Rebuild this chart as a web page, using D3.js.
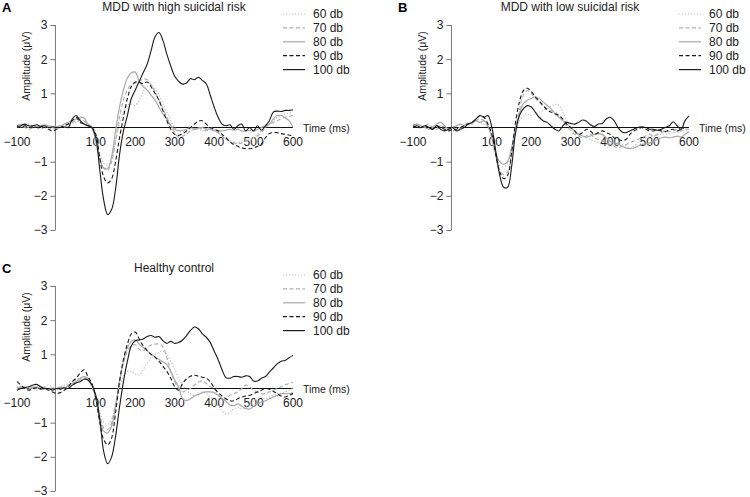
<!DOCTYPE html>
<html>
<head>
<meta charset="utf-8">
<script src="https://cdn.jsdelivr.net/npm/d3@7"></script>
<style>
  body { margin: 0; background: #fff; }
  svg { font-family: "Liberation Sans", Arial, sans-serif; }
</style>
</head>
<body>
<div id="chart"></div>
<script>
// time grid (ms), one sample every 10 ms
const times = d3.range(-100, 601, 10);
const levels = ["60 db", "70 db", "80 db", "90 db", "100 db"];
const xTickValues = [-100, 100, 200, 300, 400, 500, 600];
const xTickLabels = ["\u2212100", "100", "200", "300", "400", "500", "600"];
const yTickValues = [3, 2, 1, -1, -2, -3];
const yTickLabels = ["3", "2", "1", "\u22121", "\u22122", "\u22123"];
const panelTitles = ["MDD with high suicidal risk", "MDD with low suicidal risk", "Healthy control"];
const panelLetters = ["A", "B", "C"];

// panel A: MDD with high suicidal risk
const highRisk60 = [0.05,0.0,0.05,0.1,0.05,0.0,0.05,0.0,0.02,0.05,0.0,0.05,0.0,0.05,0.1,0.15,0.2,0.15,0.1,0.0,
  -0.35,-0.8,-1.05,-1.1,-0.9,-0.4,0.1,0.45,0.65,0.68,0.65,0.8,1.05,1.2,1.25,1.15,0.95,0.7,0.45,0.2,
  0.0,-0.1,-0.12,-0.15,-0.1,-0.05,-0.05,-0.1,-0.05,0.0,-0.05,-0.15,-0.25,-0.35,-0.4,-0.42,-0.45,-0.4,-0.38,-0.35,
  -0.3,-0.2,-0.1,0.0,0.1,0.2,0.3,0.35,0.4,0.42,0.45];
const highRisk70 = [0.0,0.05,0.0,-0.05,0.0,0.05,0.0,0.02,0.0,-0.05,0.0,0.02,0.05,0.1,0.15,0.2,0.25,0.2,0.1,0.0,
  -0.45,-0.95,-1.2,-1.25,-1.0,-0.4,0.3,0.8,1.1,1.25,1.3,1.35,1.42,1.4,1.25,1.05,0.8,0.55,0.3,0.05,
  -0.15,-0.28,-0.25,-0.2,-0.1,-0.05,0.0,-0.05,-0.1,-0.05,-0.1,-0.15,-0.25,-0.35,-0.4,-0.45,-0.48,-0.45,-0.4,-0.35,
  -0.3,-0.25,-0.15,0.0,0.1,0.15,0.2,0.25,0.3,0.32,0.35];
const highRisk80 = [0.05,0.1,0.05,0.0,0.05,0.02,0.05,0.08,0.05,0.0,0.02,0.05,0.1,0.15,0.2,0.25,0.3,0.28,0.1,0.0,
  -0.4,-0.9,-1.18,-1.2,-0.85,-0.1,0.6,1.1,1.45,1.6,1.62,1.35,1.2,1.1,0.95,0.8,0.6,0.4,0.25,0.05,
  -0.05,-0.1,-0.08,-0.05,0.0,-0.05,-0.02,0.0,-0.05,-0.05,-0.1,-0.1,-0.1,-0.08,-0.05,-0.08,-0.05,-0.1,-0.1,-0.08,
  -0.1,-0.05,0.0,0.05,0.1,0.25,0.35,0.35,0.28,0.2,0.0];
const highRisk90 = [0.05,0.0,0.05,0.0,0.02,0.0,-0.02,0.0,-0.05,-0.1,-0.05,0.0,0.05,0.1,0.2,0.3,0.15,0.1,0.05,0.0,
  -0.2,-0.9,-1.45,-1.62,-1.5,-1.0,-0.3,0.3,0.85,1.2,1.33,1.32,1.28,1.33,1.2,1.0,0.8,0.5,0.2,-0.05,
  -0.2,-0.23,-0.18,-0.1,0.0,0.1,0.18,0.2,0.1,0.0,-0.05,-0.1,-0.2,-0.3,-0.42,-0.5,-0.55,-0.6,-0.62,-0.62,
  -0.6,-0.55,-0.48,-0.3,-0.18,-0.15,-0.15,-0.18,-0.2,-0.22,-0.25];
const highRisk100 = [0.0,0.05,0.1,0.05,0.05,0.08,0.03,0.05,0.0,0.02,0.0,0.0,0.02,0.0,0.25,0.35,0.2,0.1,0.05,0.0,
  -0.3,-1.26,-2.13,-2.55,-2.4,-1.8,-0.8,-0.1,0.35,0.85,1.1,1.35,1.6,1.85,2.25,2.65,2.78,2.55,2.15,1.8,
  1.5,1.35,1.27,1.3,1.43,1.4,1.47,1.38,1.28,0.95,0.6,0.3,0.1,0.05,0.08,-0.05,0.05,0.1,-0.1,0.0,
  -0.1,0.05,-0.08,0.05,0.2,0.45,0.48,0.47,0.5,0.5,0.52];

// panel B: MDD with low suicidal risk
const lowRisk60 = [0.05,0.1,0.05,0.0,0.05,-0.05,0.0,0.05,0.0,-0.05,0.0,0.05,0.0,0.05,0.1,0.15,0.2,0.15,0.1,0.0,
  -0.3,-0.8,-1.1,-1.15,-1.05,-0.7,-0.2,0.2,0.35,0.4,0.35,0.4,0.45,0.5,0.55,0.62,0.68,0.65,0.45,0.2,
  0.0,-0.15,-0.2,-0.25,-0.3,-0.35,-0.4,-0.45,-0.5,-0.5,-0.55,-0.5,-0.45,-0.5,-0.55,-0.6,-0.55,-0.45,-0.35,-0.3,
  -0.28,-0.25,-0.22,-0.2,-0.2,-0.18,-0.15,-0.15,-0.12,-0.1,-0.1];
const lowRisk70 = [0.1,0.05,0.0,0.05,0.1,0.0,-0.05,0.0,0.05,-0.05,-0.1,-0.05,0.0,0.05,0.15,0.1,0.2,0.25,0.2,0.05,
  -0.3,-0.85,-1.25,-1.38,-1.3,-0.8,-0.1,0.5,0.95,1.08,1.0,0.85,0.75,0.62,0.55,0.5,0.45,0.35,0.2,0.05,
  -0.1,-0.2,-0.25,-0.3,-0.25,-0.2,-0.3,-0.35,-0.4,-0.45,-0.5,-0.55,-0.6,-0.55,-0.5,-0.45,-0.4,-0.35,-0.3,-0.25,
  -0.2,-0.25,-0.2,-0.15,-0.1,-0.12,-0.1,-0.05,-0.08,-0.05,-0.05];
const lowRisk80 = [0.05,0.1,0.05,0.0,-0.05,0.0,0.1,0.15,0.05,-0.05,0.0,0.05,0.1,0.05,0.1,0.15,0.2,0.15,0.2,0.05,
  -0.3,-0.75,-1.0,-1.08,-1.0,-0.6,0.0,0.4,0.7,0.8,0.85,0.9,0.85,0.75,0.65,0.55,0.4,0.3,0.2,0.1,
  0.0,-0.1,-0.2,-0.25,-0.28,-0.25,-0.2,-0.18,-0.2,-0.3,-0.4,-0.45,-0.48,-0.55,-0.6,-0.62,-0.6,-0.55,-0.5,-0.48,
  -0.45,-0.4,-0.35,-0.3,-0.28,-0.3,-0.28,-0.25,-0.28,-0.2,-0.12];
const lowRisk90 = [0.05,0.0,0.0,0.05,0.0,-0.05,0.05,0.0,-0.05,-0.1,-0.05,-0.05,0.0,0.05,0.1,0.15,0.25,0.35,0.3,0.1,
  -0.2,-0.8,-1.3,-1.5,-1.4,-0.75,0.15,0.75,1.08,1.15,1.05,0.9,0.78,0.65,0.52,0.45,0.4,0.35,0.25,0.1,
  0.0,-0.1,-0.2,-0.15,-0.05,-0.1,-0.2,-0.15,-0.1,-0.15,-0.2,-0.3,-0.35,-0.38,-0.35,-0.2,-0.1,-0.05,0.0,-0.05,
  -0.1,-0.1,-0.08,-0.1,-0.12,-0.08,-0.05,-0.1,-0.05,0.0,0.02];
const lowRisk100 = [0.0,0.05,0.0,0.05,0.0,-0.05,0.05,-0.05,-0.1,-0.05,0.0,-0.1,-0.05,0.0,0.1,0.15,0.25,0.35,0.3,0.35,
  0.0,-0.7,-1.4,-1.75,-1.75,-1.15,-0.15,0.35,0.55,0.64,0.6,0.45,0.3,0.2,0.15,0.05,-0.05,-0.1,0.05,0.15,
  0.12,0.1,0.15,0.22,0.18,0.08,0.03,0.1,0.12,0.25,0.3,0.2,0.0,-0.13,-0.15,-0.1,-0.05,0.0,0.02,0.0,
  -0.05,-0.05,-0.08,-0.05,0.0,0.05,0.17,0.05,-0.05,0.2,0.34];

// panel C: healthy control
const control60 = [0.0,0.05,0.0,0.05,0.0,-0.05,0.0,0.05,0.1,0.05,0.0,0.05,0.1,0.15,0.2,0.25,0.3,0.35,0.25,0.05,
  -0.25,-0.7,-1.0,-1.05,-0.9,-0.5,0.0,0.35,0.5,0.5,0.42,0.4,0.55,0.75,0.9,1.0,1.05,1.1,1.0,0.8,
  0.55,0.3,0.1,-0.05,-0.15,-0.2,-0.15,-0.1,-0.15,-0.25,-0.35,-0.5,-0.65,-0.75,-0.7,-0.6,-0.55,-0.6,-0.55,-0.45,
  -0.35,-0.3,-0.25,-0.3,-0.25,-0.2,-0.15,-0.15,-0.1,-0.05,0.0];
const control70 = [0.05,0.0,0.05,0.02,0.0,0.05,0.0,-0.02,0.0,0.02,0.0,0.0,0.05,0.05,0.1,0.15,0.25,0.3,0.25,0.05,
  -0.3,-0.8,-1.15,-1.2,-1.0,-0.45,0.2,0.75,1.1,1.25,1.28,1.15,1.1,1.2,1.27,1.3,1.3,1.22,0.9,0.5,
  0.2,0.0,-0.1,-0.05,0.0,0.1,0.18,0.22,0.15,0.05,0.0,-0.15,-0.32,-0.3,-0.2,-0.15,-0.1,0.0,0.1,0.05,
  -0.05,-0.1,-0.15,-0.15,-0.1,-0.05,0.0,0.05,0.1,0.15,0.18];
const control80 = [0.0,0.05,0.02,-0.02,0.05,0.0,0.05,0.02,0.0,-0.02,0.0,0.05,0.0,0.1,0.15,0.2,0.3,0.35,0.3,0.1,
  -0.3,-0.9,-1.25,-1.3,-1.1,-0.5,0.2,0.8,1.2,1.38,1.42,1.3,1.2,1.1,1.0,0.92,0.85,0.78,0.7,0.5,
  0.25,0.05,-0.3,-0.35,-0.3,-0.22,-0.18,-0.12,-0.1,-0.1,-0.12,-0.2,-0.3,-0.38,-0.48,-0.5,-0.45,-0.52,-0.58,-0.6,
  -0.52,-0.45,-0.4,-0.36,-0.3,-0.25,-0.2,-0.15,-0.15,-0.15,-0.12];
const control90 = [0.2,0.1,0.0,-0.05,0.0,0.02,-0.02,0.0,-0.05,-0.1,-0.15,-0.12,-0.05,0.05,0.2,0.3,0.45,0.55,0.35,0.15,
  -0.3,-1.0,-1.5,-1.65,-1.45,-0.7,0.2,0.85,1.3,1.6,1.65,1.45,1.25,1.12,1.0,0.92,0.8,0.65,0.5,0.3,
  0.05,-0.05,0.15,0.28,0.36,0.39,0.36,0.33,0.3,0.2,0.02,-0.12,-0.22,-0.3,-0.36,-0.36,-0.3,-0.25,-0.22,-0.2,
  -0.15,-0.1,-0.05,0.0,-0.02,-0.08,-0.15,-0.22,-0.25,-0.2,-0.15];
const control100 = [-0.05,0.0,0.03,0.05,0.1,0.12,0.05,0.0,0.0,-0.05,0.0,-0.02,0.02,0.0,0.1,0.17,0.2,0.27,0.25,0.1,
  -0.2,-0.9,-1.85,-2.2,-2.0,-1.4,-0.55,0.2,0.8,1.25,1.4,1.42,1.45,1.52,1.55,1.5,1.52,1.4,1.32,1.38,
  1.32,1.35,1.42,1.55,1.7,1.8,1.75,1.6,1.5,1.35,1.1,0.85,0.55,0.32,0.3,0.35,0.35,0.33,0.37,0.35,
  0.22,0.22,0.3,0.35,0.48,0.6,0.72,0.8,0.82,0.9,0.97];

const panelSeries = [
  [highRisk60, highRisk70, highRisk80, highRisk90, highRisk100],
  [lowRisk60, lowRisk70, lowRisk80, lowRisk90, lowRisk100],
  [control60, control70, control80, control90, control100]
];

// line style per level: 60, 70, 80, 90, 100 db
const lineColors = ["#bdbdbd", "#b0b0b0", "#a8a8a8", "#1a1a1a", "#1a1a1a"];
const lineDashes = ["1.2,1.8", "4,2.5", null, "4,2.5", null];
const panelOffsets = [[0, 0], [396, 0], [0, 261]];

const width = 750, height = 497;
const svg = d3.select("#chart").append("svg")
  .attr("width", width)
  .attr("height", height);

const xScale = d3.scaleLinear().domain([-100, 600]).range([17, 293]);
const yScale = d3.scaleLinear().domain([-3, 3]).range([230, 25]);

const line = d3.line()
  .x((d, i) => xScale(times[i]))
  .y(d => yScale(d))
  .curve(d3.curveCatmullRom.alpha(0.5));

function drawPanel(p) {
  const g = svg.append("g")
    .attr("transform", `translate(${panelOffsets[p][0]},${panelOffsets[p][1]})`);

  // panel letter and title
  g.append("text")
    .attr("x", 2).attr("y", 12)
    .style("font-size", "13px").style("font-weight", "bold")
    .text(panelLetters[p]);
  g.append("text")
    .attr("x", 174).attr("y", 11)
    .attr("text-anchor", "middle")
    .style("font-size", "12px").style("fill", "#222")
    .text(panelTitles[p]);

  // y axis
  const yAxis = d3.axisLeft(yScale)
    .tickValues(yTickValues)
    .tickSize(5)
    .tickFormat((d, i) => yTickLabels[i]);
  const ya = g.append("g")
    .attr("transform", `translate(${xScale(0) - 1},0)`)
    .call(yAxis);
  ya.select(".domain").attr("stroke", "#777").attr("d", `M0,${yScale(3)}V${yScale(-3)}`);
  ya.selectAll(".tick line").attr("stroke", "#777");
  ya.selectAll(".tick text")
    .attr("x", -8)
    .style("font-size", "12px")
    .style("fill", "#222")
    .style("font-family", "Liberation Sans, Arial, sans-serif");

  g.append("text")
    .attr("transform", `translate(30,66) rotate(-90)`)
    .attr("text-anchor", "middle")
    .style("font-size", "10.5px").style("fill", "#222")
    .text("Amplitude (\u03bcV)");

  // x axis: zero line with labels below
  g.append("line")
    .attr("x1", xScale(-100)).attr("x2", xScale(600))
    .attr("y1", yScale(0)).attr("y2", yScale(0))
    .attr("stroke", "#111").attr("stroke-width", 1.1);
  g.selectAll(".xlab")
    .data(xTickValues)
    .enter().append("text")
    .attr("class", "xlab")
    .attr("x", d => xScale(d))
    .attr("y", yScale(0) + 18)
    .attr("text-anchor", "middle")
    .style("font-size", "12px").style("fill", "#222")
    .text((d, i) => xTickLabels[i]);
  g.append("text")
    .attr("x", 303).attr("y", yScale(0) + 4)
    .style("font-size", "10.5px").style("fill", "#222")
    .text("Time (ms)");

  // waveforms
  panelSeries[p].forEach((series, k) => {
    g.append("path")
      .datum(series)
      .attr("fill", "none")
      .attr("stroke", lineColors[k])
      .attr("stroke-width", k >= 3 ? 1.1 : 1.2)
      .attr("stroke-dasharray", lineDashes[k])
      .attr("d", line);
  });

  // legend
  const lg = g.append("g");
  levels.forEach((lab, k) => {
    const y = 14 + k * 13.9;
    lg.append("line")
      .attr("x1", 283).attr("x2", 305)
      .attr("y1", y).attr("y2", y)
      .attr("stroke", lineColors[k])
      .attr("stroke-width", 1.2)
      .attr("stroke-dasharray", lineDashes[k]);
    lg.append("text")
      .attr("x", 313).attr("y", y + 4)
      .style("font-size", "12px").style("fill", "#222")
      .text(lab);
  });
}

[0, 1, 2].forEach(drawPanel);
</script>
</body>
</html>
